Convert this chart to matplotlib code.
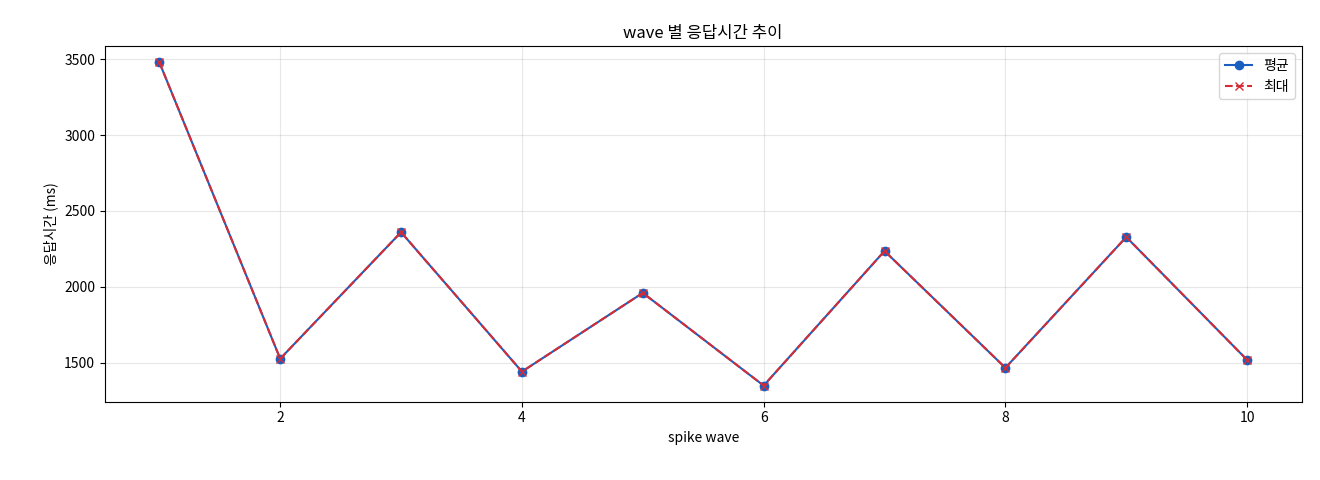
import matplotlib
matplotlib.use("Agg")
import matplotlib.pyplot as plt

plt.rcParams['font.family'] = ['Noto Sans CJK KR', 'DejaVu Sans']

waves = [1, 2, 3, 4, 5, 6, 7, 8, 9, 10]
avg_ms = [3480, 1526, 2360, 1441, 1960, 1349, 2236, 1466, 2328, 1518]
max_ms = [3480, 1526, 2360, 1441, 1960, 1349, 2236, 1466, 2328, 1518]

fig, ax = plt.subplots(figsize=(13.2, 4.8), dpi=100)
fig.subplots_adjust(left=0.0795, right=0.986, top=0.904, bottom=0.163)

ax.plot(waves, avg_ms, marker='o', color='#1a5fc0', label='평균')
ax.plot(waves, max_ms, marker='x', linestyle='--', color='#d62c35', label='최대')

ax.set_title('wave 별 응답시간 추이')
ax.set_xlabel('spike wave')
ax.set_ylabel('응답시간 (ms)')
ax.grid(True, alpha=0.3)
ax.legend(loc='upper right')

fig.savefig('out.png')
